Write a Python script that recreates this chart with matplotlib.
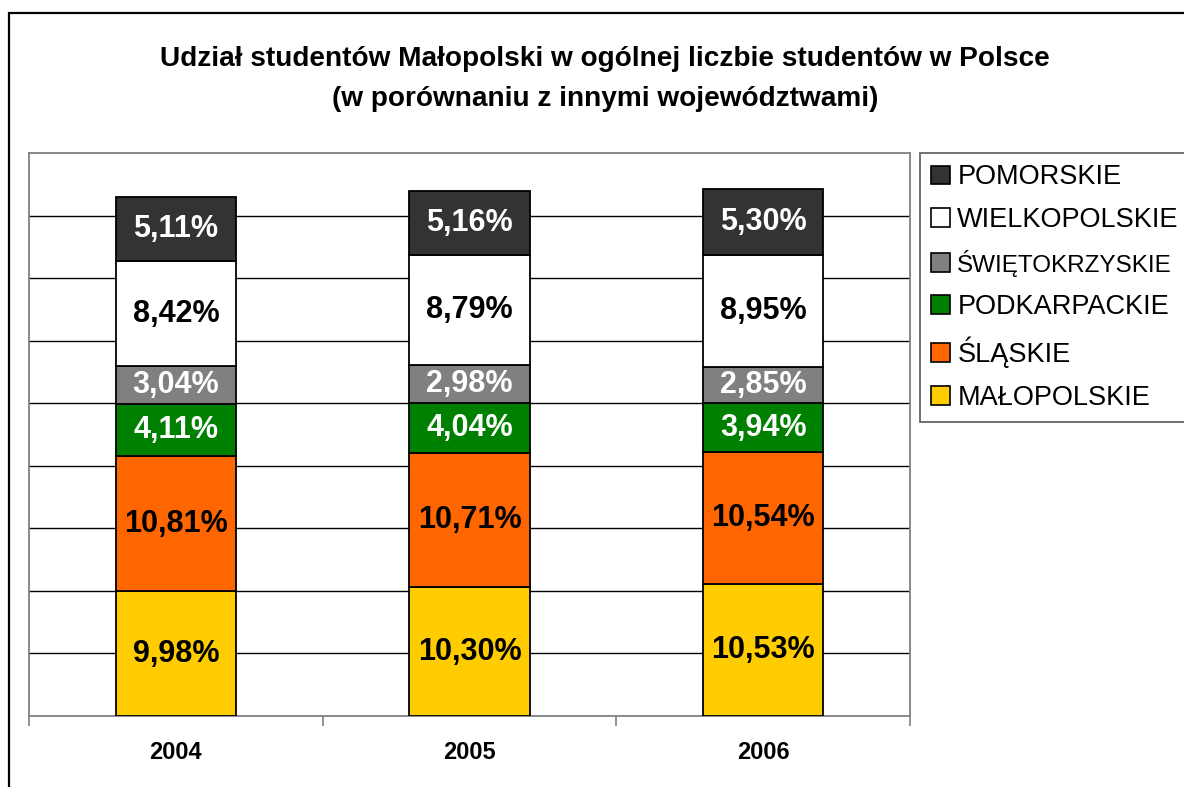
import matplotlib
matplotlib.use("Agg")
import matplotlib.pyplot as plt
from matplotlib.patches import Rectangle, Patch
import numpy as np

plt.rcParams['font.family'] = ['Liberation Sans', 'DejaVu Sans']

years = ['2004', '2005', '2006']
series_names = ['MAŁOPOLSKIE', 'ŚLĄSKIE', 'PODKARPACKIE', 'ŚWIĘTOKRZYSKIE', 'WIELKOPOLSKIE', 'POMORSKIE']
malopolskie = [9.98, 10.30, 10.53]
slaskie = [10.81, 10.71, 10.54]
podkarpackie = [4.11, 4.04, 3.94]
swietokrzyskie = [3.04, 2.98, 2.85]
wielkopolskie = [8.42, 8.79, 8.95]
pomorskie = [5.11, 5.16, 5.30]
series = [malopolskie, slaskie, podkarpackie, swietokrzyskie, wielkopolskie, pomorskie]
colors = ['#FFCC00', '#FF6600', '#008000', '#808080', '#FFFFFF', '#333333']
text_colors = ['black', 'black', 'white', 'white', 'black', 'white']
title = 'Udział studentów Małopolski w ogólnej liczbie studentów w Polsce\n(w porównaniu z innymi województwami)'

W, H = 1184, 787
fig = plt.figure(figsize=(W / 100, H / 100), dpi=100)
fig.patch.set_facecolor('white')

# outer frame
fig.patches.append(Rectangle((9 / W, -0.5), 2.0, 0.5 + (1 - 13 / H), transform=fig.transFigure,
                             fill=False, edgecolor='black', linewidth=1.6, zorder=0))

ax = fig.add_axes([29 / W, 1 - 716 / H, (910 - 29) / W, (716 - 153) / H])
x = np.arange(len(years))
bottom = np.zeros(len(years))
for vals, col, tcol in zip(series, colors, text_colors):
    vals = np.array(vals)
    ax.bar(x, vals, width=0.41, bottom=bottom, color=col, edgecolor='black', linewidth=1.3, zorder=3)
    for xi, b, v in zip(x, bottom, vals):
        ax.text(xi, b + v / 2, f'{v:.2f}%'.replace('.', ','), ha='center', va='center',
                fontsize=22, fontweight='bold', color=tcol, zorder=4)
    bottom += vals

ax.set_xlim(-0.5, 2.5)
ax.set_ylim(0, 45)
ax.set_yticks(np.arange(5, 45, 5))
ax.yaxis.grid(True, color='black', linewidth=1.0, zorder=0)
ax.tick_params(axis='y', left=False, labelleft=False)
ax.set_xticks(x)
ax.set_xticklabels(years, fontsize=17, fontweight='bold')
ax.tick_params(axis='x', which='major', length=0, pad=18)
ax.set_xticks([-0.5, 0.5, 1.5, 2.5], minor=True)
ax.tick_params(axis='x', which='minor', length=7, width=1.2, color='#808080', direction='out')
for s in ax.spines.values():
    s.set_color('#808080')
    s.set_linewidth(1.3)

fig.text(0.5 * (160 + 1050) / W, 1 - 79 / H, title, ha='center', va='center',
         fontsize=20.2, fontweight='bold', linespacing=1.65)

handles = [Patch(facecolor=c, edgecolor='black', linewidth=1.2) for c in colors]
leg = fig.legend(handles[::-1], series_names[::-1], loc='upper left', bbox_to_anchor=(920 / W, 1 - 153 / H),
                 fontsize=19.5, frameon=True, fancybox=False, edgecolor='#404040', handlelength=0.68,
                 handleheight=0.68, handletextpad=0.28, labelspacing=0.62, borderpad=0.42, borderaxespad=0)
leg.get_frame().set_linewidth(1.3)
for t in leg.get_texts():
    if t.get_text().startswith('ŚWIĘ'):
        t.set_fontsize(17.5)

fig.savefig('out.png', dpi=100)
